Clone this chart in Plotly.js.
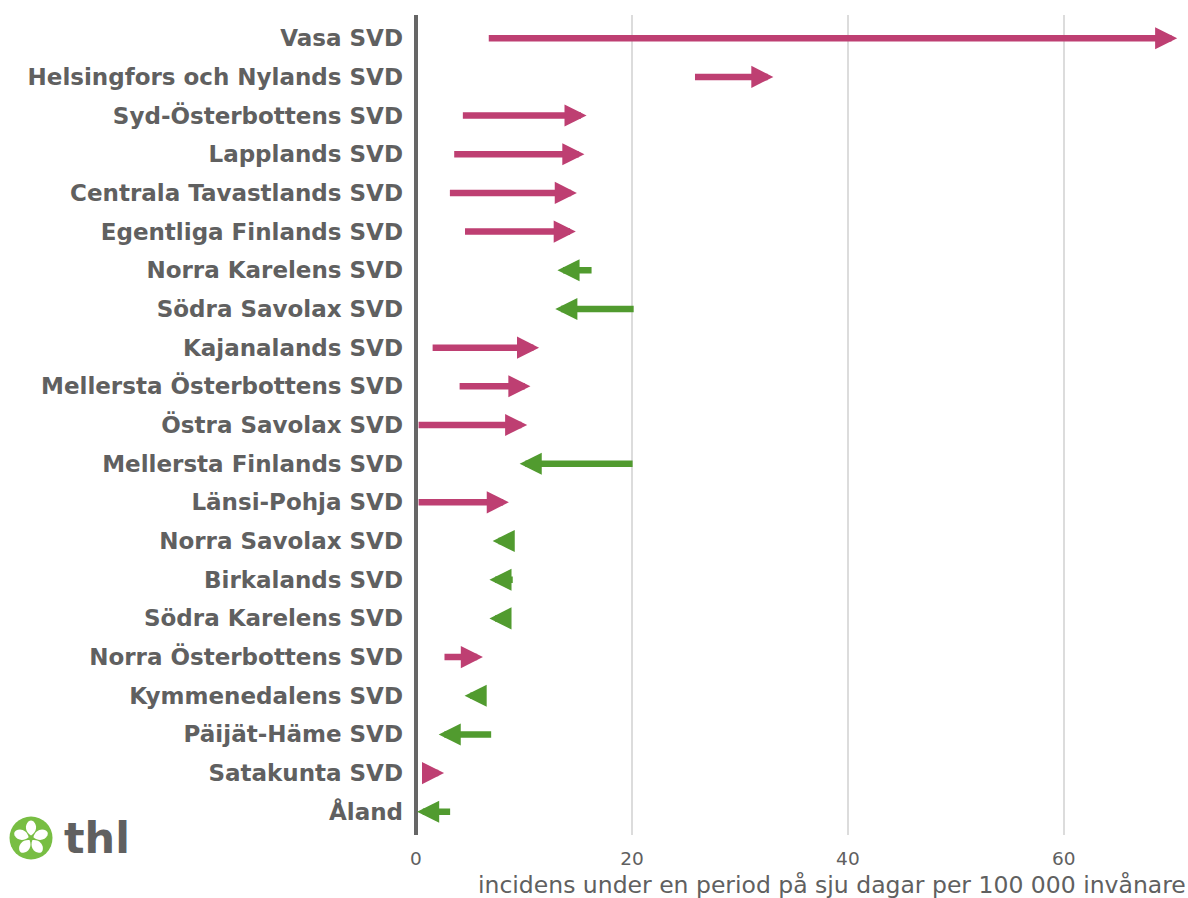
<!DOCTYPE html>
<html>
<head>
<meta charset="utf-8">
<script src="https://cdn.plot.ly/plotly-3.0.1.min.js"></script>
<style>
  html, body { margin: 0; padding: 0; background: #fff; }
  #chart { width: 1188px; height: 898px; }
</style>
</head>
<body>
<div id="chart"></div>
<script>
const categories = ['Vasa SVD','Helsingfors och Nylands SVD','Syd-Österbottens SVD','Lapplands SVD','Centrala Tavastlands SVD','Egentliga Finlands SVD','Norra Karelens SVD','Södra Savolax SVD','Kajanalands SVD','Mellersta Österbottens SVD','Östra Savolax SVD','Mellersta Finlands SVD','Länsi-Pohja SVD','Norra Savolax SVD','Birkalands SVD','Södra Karelens SVD','Norra Österbottens SVD','Kymmenedalens SVD','Päijät-Häme SVD','Satakunta SVD','Åland'];
const previousWeek = [6.6, 25.7, 4.2, 3.4, 3.0, 4.4, 16.4, 20.3, 1.4, 3.9, 0.1, 20.2, 0.1, 8.6, 9.1, 8.2, 2.5, 6.0, 7.1, 1.0, 3.3];
const currentWeek  = [70.5, 33.1, 15.8, 15.6, 14.9, 14.8, 13.1, 12.9, 11.4, 10.6, 10.3, 9.6, 8.6, 7.1, 6.8, 6.8, 6.2, 4.5, 2.1, 2.6, 0.1];
const xTickValues = [0, 20, 40, 60];
const xTitle = 'incidens under en period på sju dagar per 100 000 invånare';
const logoText = 'thl';

const UP = '#be3f72', DOWN = '#519b2f', TEXT = '#606060';

const arrows = categories.map((c, i) => ({
  x: currentWeek[i], y: c, ax: previousWeek[i], ay: c,
  xref: 'x', yref: 'y', axref: 'x', ayref: 'y',
  text: '', showarrow: true, arrowhead: 2, arrowwidth: 6.5, arrowsize: 0.68,
  arrowcolor: currentWeek[i] > previousWeek[i] ? UP : DOWN
}));

const flowerSvg = '<svg xmlns="http://www.w3.org/2000/svg" width="44" height="44" viewBox="-22 -22 44 44">' +
  '<circle cx="0" cy="0" r="21.5" fill="#78be43"/>' +
  [0,72,144,216,288].map(a => '<path transform="rotate(' + a + ')" d="M0,-2.5 C-6,-6 -6.5,-13 -2.5,-16.5 Q0,-18.5 2.5,-16.5 C6.5,-13 6,-6 0,-2.5 Z" fill="#fff"/>').join('') +
  '</svg>';

const layout = {
  width: 1188, height: 898,
  margin: { l: 416, r: 0, t: 15, b: 63 },
  paper_bgcolor: '#fff', plot_bgcolor: '#fff',
  font: { family: 'DejaVu Sans, sans-serif', color: TEXT },
  showlegend: false,
  xaxis: {
    range: [0, 71.5], tickvals: xTickValues, ticktext: xTickValues.map(String),
    showgrid: true, gridcolor: '#dcdcdc', gridwidth: 1.5,
    zeroline: true, zerolinecolor: '#666666', zerolinewidth: 4,
    showline: false, ticks: '', tickfont: { size: 18.5, color: TEXT },
    ticklabelstandoff: 10, fixedrange: true
  },
  yaxis: {
    type: 'category', categoryorder: 'array', categoryarray: categories,
    range: [categories.length - 0.4, -0.6],
    showgrid: false, zeroline: false, showline: false, ticks: '',
    tickfont: { size: 23, color: TEXT, family: 'DejaVu Sans, sans-serif', weight: 'bold' },
    ticklabelstandoff: 12, fixedrange: true
  },
  annotations: arrows.concat([
    { xref: 'paper', yref: 'paper', x: 1, y: 0, xanchor: 'right', yanchor: 'top', yshift: -34,
      text: xTitle, showarrow: false, font: { size: 23.5, color: TEXT } },
    { xref: 'paper', yref: 'paper', x: (62 - 416) / 772, y: (835 - 838) / 820, xanchor: 'left', yanchor: 'middle',
      text: '<b>' + logoText + '</b>', showarrow: false, font: { size: 43, color: TEXT, family: 'DejaVu Sans, sans-serif' } }
  ]),
  images: [{
    source: 'data:image/svg+xml;charset=utf-8,' + encodeURIComponent(flowerSvg),
    xref: 'paper', yref: 'paper', x: (9 - 416) / 772, y: (835 - 816) / 820,
    sizex: 44 / 772, sizey: 44 / 820, xanchor: 'left', yanchor: 'top', layer: 'above'
  }]
};

const trace = {
  type: 'scatter', mode: 'markers', x: currentWeek, y: categories,
  marker: { opacity: 0 }, hoverinfo: 'skip'
};

Plotly.newPlot('chart', [trace], layout, { displayModeBar: false, staticPlot: true });
</script>
</body>
</html>
